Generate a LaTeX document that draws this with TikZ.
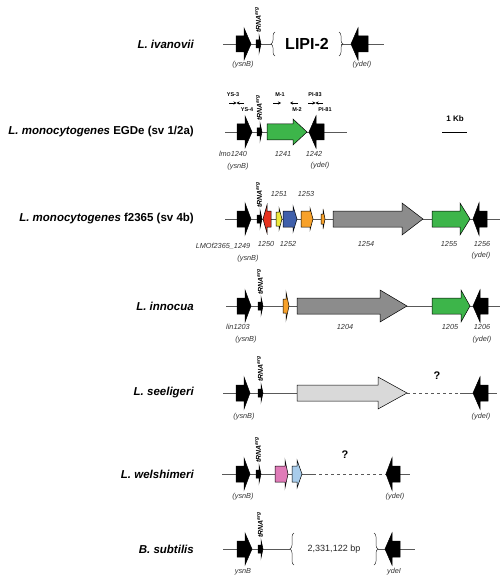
\documentclass[tikz,border=0pt]{standalone}
\usepackage{fontspec}
\setmainfont{Liberation Sans}
\usetikzlibrary{arrows.meta,decorations.pathreplacing}
\definecolor{ggreen}{HTML}{3DB54A}
\definecolor{gred}{HTML}{E8321E}
\definecolor{gyellow}{HTML}{EEEA3C}
\definecolor{gblue}{HTML}{3F5FAA}
\definecolor{gorange}{HTML}{F7A12A}
\definecolor{gdgrey}{HTML}{8C8C8C}
\definecolor{glgrey}{HTML}{D9D9D9}
\definecolor{gpink}{HTML}{E07BB8}
\definecolor{glblue}{HTML}{A8CCEB}
\newcommand{\genearrow}[7]{\filldraw[fill=#7,draw=black,line width=0.5pt,line join=miter] (#1,#4-#5) -- (#2,#4-#5) -- (#2,#4-#6) -- (#3,#4) -- (#2,#4+#6) -- (#2,#4+#5) -- (#1,#4+#5) -- cycle;}
\newcommand{\trnagene}[3]{\genearrow{#1-2}{#1+1}{#1+3}{#2}{4}{9}{black}
  \node[trnalbl] (#3) at (#1,#2-11) {tRNA\textsuperscript{arg}};}
\begin{document}
\begin{tikzpicture}[x=1pt,y=-1pt,
  chrom/.style={draw=black!65,line width=0.7pt},
  dashchrom/.style={chrom,dashed},
  genelbl/.style={font=\fontsize{7.3}{8}\selectfont\itshape,text=black!80,inner sep=0pt},
  species/.style={font=\fontsize{11.5}{14}\selectfont\bfseries,anchor=east,inner sep=0pt},
  trnalbl/.style={rotate=90,anchor=west,font=\fontsize{7}{8}\selectfont\bfseries\itshape,inner sep=0pt},
  primer/.style={-{Stealth[length=3pt,width=3pt]},line width=0.6pt},
  primerlbl/.style={font=\fontsize{5.5}{6}\selectfont\bfseries,inner sep=0pt},
  curly/.style={decorate,decoration={brace,amplitude=4pt},line width=0.5pt,draw=black!80}]
\useasboundingbox (0,0) rectangle (500,577);

% ---------- L. ivanovii ----------
\node[species] (s1) at (194,44) {\itshape L. ivanovii};
\draw[chrom] (223,44) -- (272,44);
\draw[chrom] (341,44) -- (384,44);
\draw[curly] (275,56) -- (275,32);
\draw[curly] (339,32) -- (339,56);
\node[font=\fontsize{16}{18}\selectfont\bfseries] (lipi) at (307,44) {LIPI-2};
\genearrow{236}{244}{251}{44}{8}{16}{black}
\trnagene{258}{44}{t1}
\genearrow{368}{358}{351}{44}{8}{16}{black}
\node[genelbl] (l1a) at (243,65) {(ysnB)};
\node[genelbl] (l1b) at (362,65) {(ydeI)};

% ---------- L. monocytogenes EGDe ----------
\node[species] (s2) at (194,132) {\itshape L. monocytogenes \upshape EGDe (sv 1/2a)};
\draw[chrom] (225,132) -- (347,132);
\genearrow{237}{245}{252}{132}{8}{16}{black}
\trnagene{259}{132}{t2}
\genearrow{267}{293}{307}{132}{8}{13}{ggreen}
\genearrow{324}{316}{309}{132}{8}{16}{black}
\coordinate (p1a) at (229,103); \coordinate (p1m) at (236.5,103); \coordinate (p1b) at (244,103);
\draw[primer] (p1a) -- (p1m); \draw[primer] (p1b) -- (p1m);
\coordinate (p2a) at (273,103); \coordinate (p2b) at (281,103);
\draw[primer] (p2a) -- (p2b);
\coordinate (p3a) at (298,103); \coordinate (p3b) at (290,103);
\draw[primer] (p3a) -- (p3b);
\coordinate (p4a) at (308,103); \coordinate (p4m) at (315.5,103); \coordinate (p4b) at (323,103);
\draw[primer] (p4a) -- (p4m); \draw[primer] (p4b) -- (p4m);
\node[primerlbl] (ys3) at (233,95) {YS-3};
\node[primerlbl] (ys4) at (247,110) {YS-4};
\node[primerlbl] (m1) at (280,95) {M-1};
\node[primerlbl] (m2) at (297,110) {M-2};
\node[primerlbl] (pi83) at (315,95) {PI-83};
\node[primerlbl] (pi81) at (325,110) {PI-81};
\node[genelbl] (l2a) at (233,154) {lmo1240};
\node[genelbl] (l2b) at (238,167) {(ysnB)};
\node[genelbl] (l2c) at (283,154) {1241};
\node[genelbl] (l2d) at (314,154) {1242};
\node[genelbl] (l2e) at (320,166) {(ydeI)};
\node[font=\fontsize{8}{9}\selectfont\bfseries] (kb) at (455,119) {1 Kb};
\coordinate (kba) at (442,132); \coordinate (kbb) at (467,132);
\draw[line width=0.7pt] (kba) -- (kbb);

% ---------- L. monocytogenes f2365 ----------
\node[species] (s3) at (194,219) {\itshape L. monocytogenes \upshape f2365 (sv 4b)};
\draw[chrom] (225,219) -- (500,219);
\genearrow{237}{245}{251}{219}{8}{16}{black}
\trnagene{259}{219}{t3}
\genearrow{271}{267}{263}{219}{8}{14}{gred}
\genearrow{276}{279}{282}{219}{7}{11}{gyellow}
\genearrow{283}{293}{297}{219}{8}{13}{gblue}
\genearrow{301}{310}{313}{219}{8}{11}{gorange}
\genearrow{321}{323}{325}{219}{5}{10}{gorange}
\genearrow{333}{402}{423}{219}{8}{16}{gdgrey}
\genearrow{432}{460}{470}{219}{8}{16}{ggreen}
\genearrow{487}{479}{473}{219}{8}{16}{black}
\node[genelbl] (l3a) at (223,246) {LMOf2365\_1249};
\node[genelbl] (l3b) at (248,259) {(ysnB)};
\node[genelbl] (l3c) at (266,244) {1250};
\node[genelbl] (l3d) at (279,194) {1251};
\node[genelbl] (l3e) at (288,244) {1252};
\node[genelbl] (l3f) at (306,194) {1253};
\node[genelbl] (l3g) at (366,244) {1254};
\node[genelbl] (l3h) at (449,244) {1255};
\node[genelbl] (l3i) at (482,244) {1256};
\node[genelbl] (l3j) at (481,256) {(ydeI)};

% ---------- L. innocua ----------
\node[species] (s4) at (194,306) {\itshape L. innocua};
\draw[chrom] (226,306) -- (500,306);
\genearrow{237}{245}{251}{306}{8}{16}{black}
\trnagene{260}{306}{t4}
\genearrow{283}{286}{289}{306}{7}{14}{gorange}
\genearrow{297}{380}{407}{306}{8}{16}{gdgrey}
\genearrow{432}{461}{470}{306}{8}{16}{ggreen}
\genearrow{488}{480}{473}{306}{8}{16}{black}
\node[genelbl] (l4a) at (238,327) {lin1203};
\node[genelbl] (l4b) at (246,340) {(ysnB)};
\node[genelbl] (l4c) at (345,327) {1204};
\node[genelbl] (l4d) at (450,327) {1205};
\node[genelbl] (l4e) at (482,327) {1206};
\node[genelbl] (l4f) at (482,340) {(ydeI)};

% ---------- L. seeligeri ----------
\node[species] (s5) at (194,393) {\itshape L. seeligeri};
\draw[chrom] (223,393) -- (297,393);
\draw[dashchrom] (407,393) -- (460,393);
\draw[chrom] (460,393) -- (497,393);
\genearrow{236}{244}{250}{393}{8}{16}{black}
\trnagene{260}{393}{t5}
\genearrow{297}{378}{407}{393}{8}{16}{glgrey}
\genearrow{488}{480}{473}{393}{8}{16}{black}
\node[font=\fontsize{11}{12}\selectfont\bfseries] (q1) at (437,376) {?};
\node[genelbl] (l5a) at (244,417) {(ysnB)};
\node[genelbl] (l5b) at (481,417) {(ydeI)};

% ---------- L. welshimeri ----------
\node[species] (s6) at (194,474) {\itshape L. welshimeri};
\draw[chrom] (222,474) -- (313,474);
\draw[dashchrom] (313,474) -- (385,474);
\draw[chrom] (385,474) -- (410,474);
\genearrow{236}{244}{250}{474}{8}{16}{black}
\trnagene{258}{474}{t6}
\genearrow{275}{285}{288}{474}{8}{14}{gpink}
\genearrow{292}{297}{302}{474}{8}{14}{glblue}
\genearrow{400}{392}{386}{474}{8}{16}{black}
\node[font=\fontsize{11}{12}\selectfont\bfseries] (q2) at (345,455) {?};
\node[genelbl] (l6a) at (243,497) {(ysnB)};
\node[genelbl] (l6b) at (395,497) {(ydeI)};

% ---------- B. subtilis ----------
\node[species] (s7) at (194,549) {\itshape B. subtilis};
\draw[chrom] (223,549) -- (290,549);
\draw[chrom] (378,549) -- (415,549);
\draw[curly] (294,565) -- (294,533);
\draw[curly] (374,533) -- (374,565);
\node[font=\fontsize{9}{10}\selectfont,text=black!85] (bp) at (334,549) {2,331,122 bp};
\genearrow{237}{245}{252}{549}{8}{16}{black}
\trnagene{260}{549}{t7}
\genearrow{400}{392}{385}{549}{8}{16}{black}
\node[genelbl] (l7a) at (243,572) {ysnB};
\node[genelbl] (l7b) at (394,572) {ydeI};
\end{tikzpicture}
\end{document}
